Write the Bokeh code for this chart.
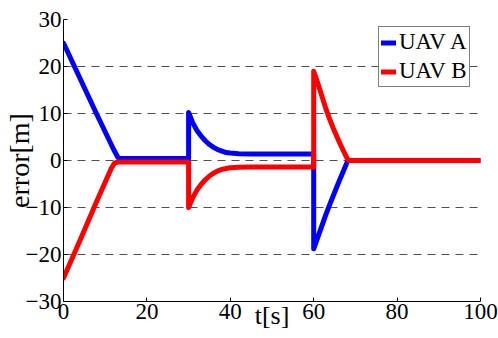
from bokeh.plotting import figure
from bokeh.models import Range1d, FixedTicker, Legend, LegendItem
from bokeh.embed import file_html
from bokeh.resources import INLINE

# ---- data ----
t_a = [0, 4, 8, 12, 13, 13.5, 30, 30, 31, 32, 33, 34, 35, 36, 37, 38, 39, 40, 42, 45, 60,
       60, 61, 62, 63, 64, 65, 66, 67, 68, 68.3, 100]
err_a = [25, 17.4, 9.8, 2.4, 0.7, 0.4, 0.4, 10.2, 8.0, 6.4, 5.2, 4.2, 3.4, 2.8, 2.3, 2.0, 1.7, 1.6, 1.45, 1.4, 1.4,
         -18.8, -16.3, -13.8, -11.3, -9.0, -6.8, -4.6, -2.5, -0.4, 0, 0]

t_b = [0, 4, 8, 11.5, 12.2, 12.8, 13.5, 30, 30, 31, 32, 33, 34, 35, 36, 37, 38, 39, 40, 42, 45, 60,
       60, 61, 62, 63, 64, 65, 66, 67, 68, 68.4, 100]
err_b = [-25, -16.9, -8.6, -1.6, -0.6, -0.35, -0.3, -0.3, -10.0, -7.9, -6.3, -5.1, -4.1, -3.3, -2.7, -2.2, -1.9, -1.7, -1.55, -1.45, -1.4, -1.4,
         19.0, 16.4, 13.6, 10.8, 8.4, 6.2, 4.2, 2.3, 0.5, 0, 0]

x_ticks = [0, 20, 40, 60, 80, 100]
y_ticks = [-30, -20, -10, 0, 10, 20, 30]
series_names = ["UAV A", "UAV B"]
x_title = "t[s]"
y_title = "error[m]"

FONT = "Liberation Serif"

p = figure(width=498, height=338, output_backend="svg", toolbar_location=None,
           x_range=Range1d(0, 100), y_range=Range1d(-30, 30),
           min_border_left=62, min_border_right=18, min_border_top=19, min_border_bottom=37)
p.outline_line_color = None
p.background_fill_color = "white"
p.border_fill_color = "white"

p.xgrid.visible = False
p.ygrid.grid_line_color = "#505050"
p.ygrid.grid_line_dash = "8 6"
p.ygrid.grid_line_width = 1
p.ygrid.ticker = FixedTicker(ticks=y_ticks)

for ax, ticks in ((p.xaxis, x_ticks), (p.yaxis, y_ticks)):
    ax.ticker = FixedTicker(ticks=ticks)
    ax.major_tick_in = 4
    ax.major_tick_out = 0
    ax.minor_tick_line_color = None
    ax.axis_line_color = "black"
    ax.major_tick_line_color = "black"
    ax.major_label_text_font = FONT
    ax.major_label_text_font_size = "23px"
    ax.major_label_text_color = "black"
    ax.axis_label_text_font = FONT
    ax.axis_label_text_font_style = "normal"
    ax.axis_label_text_color = "black"

p.xaxis.major_label_standoff = 2
p.yaxis.major_label_standoff = 2
p.yaxis.axis_label = y_title
p.yaxis.axis_label_text_font_size = "28px"
p.yaxis.axis_label_standoff = -12

p.xaxis.axis_label = x_title
p.xaxis.axis_label_text_font_size = "26px"
p.xaxis.axis_label_standoff = -21

ra = p.line(t_a, err_a, line_color="#0000ff", line_width=5, line_join="round", line_cap="round")
rb = p.line(t_b, err_b, line_color="#ff0000", line_width=5, line_join="round", line_cap="round")

legend = Legend(items=[LegendItem(label=series_names[0], renderers=[ra]),
                       LegendItem(label=series_names[1], renderers=[rb])],
                location=(315, 214))
legend.label_text_font = FONT
legend.label_text_font_size = "23px"
legend.label_text_color = "black"
legend.glyph_width = 15
legend.glyph_height = 25
legend.label_height = 25
legend.label_standoff = 3
legend.spacing = 3
legend.padding = 2
legend.margin = 0
legend.border_line_color = "black"
legend.border_line_width = 1
legend.background_fill_color = "white"
legend.background_fill_alpha = 1.0
p.add_layout(legend, "center")

open("out.html", "w").write(file_html(p, INLINE))
